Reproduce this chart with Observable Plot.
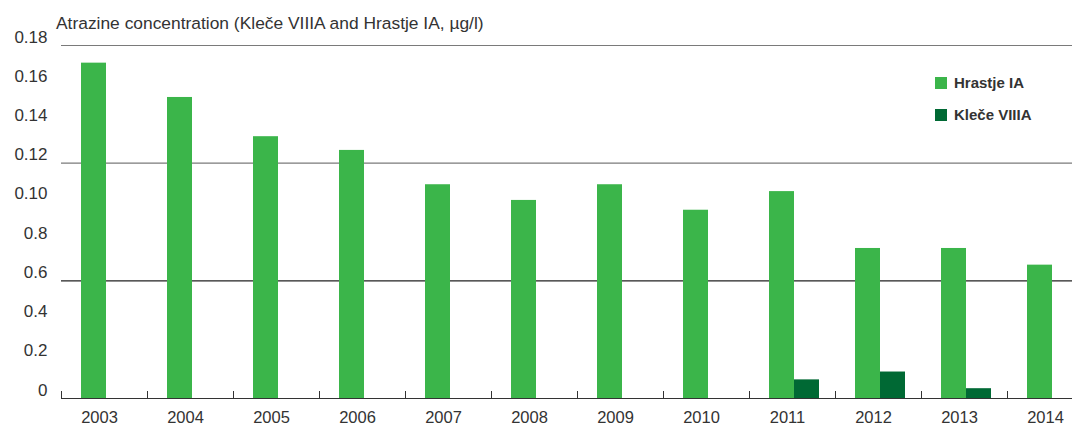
<!DOCTYPE html>
<html><head><meta charset="utf-8">
<script src="https://cdn.jsdelivr.net/npm/d3@7"></script>
<script src="https://cdn.jsdelivr.net/npm/@observablehq/plot@0.6"></script>
<style>
html,body{margin:0;padding:0;overflow:hidden;background:#fff;}
#wrap{position:relative;width:1093px;height:427px;font-family:"Liberation Sans",Arial,sans-serif;color:#333;}
#title{position:absolute;left:56px;top:15px;font-size:17.4px;line-height:17px;white-space:nowrap;}
.lg{position:absolute;left:935px;width:12px;height:12px;}
.lt{position:absolute;left:954px;font-size:15px;line-height:15px;font-weight:bold;white-space:nowrap;}
#chart{position:absolute;left:0;top:0;}
</style>
</head><body>
<div id="wrap">
  <div id="chart"></div>
  <div id="title"></div>
  <div id="legend"></div>
</div>
<script>
const title = "Atrazine concentration (Kleče VIIIA and Hrastje IA, µg/l)";
const years = [2003, 2004, 2005, 2006, 2007, 2008, 2009, 2010, 2011, 2012, 2013, 2014];
const hrastje = [0.171, 0.1535, 0.1335, 0.1265, 0.109, 0.101, 0.109, 0.096, 0.1055, 0.0765, 0.0765, 0.068];
const klece = [null, null, null, null, null, null, null, 0, 0.0095, 0.0135, 0.005, null];
const seriesNames = ["Hrastje IA", "Kleče VIIIA"];
const seriesColors = ["#3bb54a", "#006934"];
const yTicks = [0, 0.02, 0.04, 0.06, 0.08, 0.10, 0.12, 0.14, 0.16, 0.18];
const yTickLabels = ["0", "0.2", "0.4", "0.6", "0.8", "0.10", "0.12", "0.14", "0.16", "0.18"];
const lightGrid = [0.18, 0.12];
const darkGrid = [0.06];

const rows = years.map((year, i) => ({year, hrastje: hrastje[i], klece: klece[i]}));

const plot = Plot.plot({
  width: 1093,
  height: 427,
  marginTop: 45,
  marginBottom: 29,
  marginLeft: 61,
  marginRight: 0,
  style: {fontFamily: '"Liberation Sans", Arial, sans-serif', fontSize: "17px", color: "#333", background: "transparent"},
  x: {type: "band", domain: years, padding: 0, axis: null, label: null},
  y: {domain: [0, 0.18], axis: null, label: null},
  marks: [
    Plot.ruleY(lightGrid, {stroke: "#7a7a7a", strokeWidth: 1.2}),
    Plot.ruleY(darkGrid, {stroke: "#222", strokeWidth: 1.2}),
    Plot.barY(rows, {x: "year", y: "hrastje", fill: seriesColors[0], insetLeft: 20, insetRight: 41}),
    Plot.barY(rows.filter(d => d.klece != null), {x: "year", y: "klece", fill: seriesColors[1], insetLeft: 45, insetRight: 16}),
    Plot.ruleY([0], {stroke: "#333", strokeWidth: 1.2}),
    Plot.axisX({tickSize: 7, text: null, label: null, dx: -43, dy: -7, stroke: "#333"}),
    Plot.axisX({tickSize: 0, tickPadding: 13, label: null, fontSize: 16.5, dx: -5, fill: "#333", tickFormat: d => String(d)}),
    Plot.axisY({ticks: yTicks, label: null, tickFormat: d => yTickLabels[yTicks.indexOf(d)], tickSize: 0, tickPadding: 14, lineAnchor: "bottom", dy: -3, fontSize: 17, fill: "#333"})
  ]
});
document.getElementById("chart").appendChild(plot);
document.getElementById("title").textContent = title;

const legend = document.getElementById("legend");
const legendTops = [77, 109];
seriesNames.forEach((name, i) => {
  const sw = document.createElement("div");
  sw.className = "lg";
  sw.style.top = legendTops[i] + "px";
  sw.style.background = seriesColors[i];
  legend.appendChild(sw);
  const t = document.createElement("div");
  t.className = "lt";
  t.style.top = (legendTops[i] - 2) + "px";
  t.textContent = name;
  legend.appendChild(t);
});
</script>
</body></html>
